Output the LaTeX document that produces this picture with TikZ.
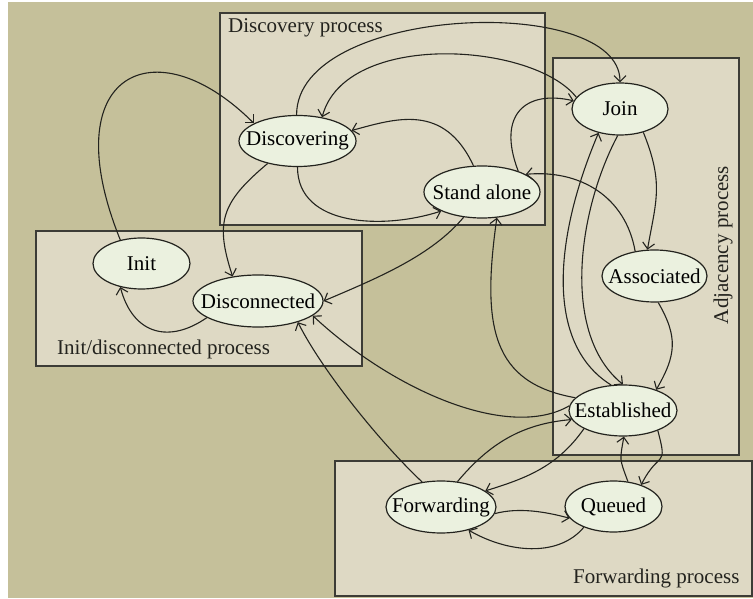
\documentclass[tikz,border=0pt]{standalone}
\usepackage{fontspec}
\setmainfont{Liberation Serif}
\usepackage{xcolor}
\usepackage{tikz}
\usetikzlibrary{shapes.geometric,arrows.meta}
\definecolor{bgolive}{RGB}{197,192,154}
\definecolor{boxfill}{RGB}{222,217,196}
\definecolor{statefill}{RGB}{235,241,223}
\definecolor{ink}{RGB}{35,35,30}
\definecolor{boxline}{RGB}{60,60,54}
\newcommand{\lbl}[1]{\makebox[0pt]{#1}}

\begin{document}
\begin{tikzpicture}[x=1pt,y=1pt,font=\fontsize{21}{24}\selectfont,
	statenode/.style={ellipse,draw=ink,fill=statefill,line width=1.2pt,inner sep=0pt},
	trans/.style={draw=ink,line width=1.1pt,-{Straight Barb[length=6pt,width=12pt]}},
	proc/.style={draw=boxline,fill=boxfill,line width=1.5pt},
	proclabel/.style={inner sep=0pt,text=ink}]
		\useasboundingbox (0,0) rectangle (753,598);
		\fill[bgolive] (8,0) rectangle (753,596);
		% process boxes
		\draw[proc] (220,585) rectangle (545,373);
		\draw[proc] (553,540) rectangle (739,143);
		\draw[proc] (36,367) rectangle (362,232);
		\draw[proc] (335,137) rectangle (752,2);
		\node[proclabel,anchor=base west] (discoverylbl) at (228,565) {Discovery process};
		\node[proclabel,rotate=90] (adjacencylbl) at (723,353) {Adjacency process};
		\node[proclabel,anchor=base west] (initlbl) at (57,243) {Init/disconnected process};
		\node[proclabel,anchor=base west] (forwardinglbl) at (573,15) {Forwarding process};
		% states
		\node[statenode,minimum width=117pt,minimum height=51pt] (discovering) at (297.5,457) {\lbl{Discovering}};
		\node[statenode,minimum width=116pt,minimum height=52pt] (standalone) at (482,406) {\lbl{Stand alone}};
		\node[statenode,minimum width=96pt,minimum height=52pt] (join) at (620,489) {\lbl{Join}};
		\node[statenode,minimum width=105pt,minimum height=52pt] (associated) at (654.5,322) {\lbl{Associated}};
		\node[statenode,minimum width=108pt,minimum height=51pt] (established) at (623,187.5) {\lbl{Established}};
		\node[statenode,minimum width=97pt,minimum height=51pt] (init) at (141.5,334.5) {\lbl{Init}};
		\node[statenode,minimum width=130pt,minimum height=52pt] (disconnected) at (258,297) {\lbl{Disconnected}};
		\node[statenode,minimum width=110pt,minimum height=52pt] (forwarding) at (441,91) {\lbl{Forwarding}};
		\node[statenode,minimum width=97pt,minimum height=51pt] (queued) at (613.5,91.5) {\lbl{Queued}};
		% transitions
		\draw[trans] (init.132) .. controls +(112:180) and +(135:140) .. (discovering.158);
		\draw[trans] (discovering.92) .. controls +(90:110) and +(90:90) .. (join.north);
		\draw[trans] (join.165) .. controls +(128:70) and +(75:90) .. (discovering.44);
		\draw[trans] (standalone.108) .. controls +(115:70) and +(15:45) .. (discovering.11);
		\draw[trans] (discovering.south) .. controls +(270:60) and +(198:60) .. (standalone.205);
		\draw[trans] (discovering.217) .. controls +(220:61) and +(108:57) .. (disconnected.136);
		\draw[trans] (standalone.234) .. controls +(230:50) and +(23:60) .. (disconnected.east);
		\draw[trans] (standalone.30) .. controls +(111:60) and +(167:50) .. (join.170);
		\draw[trans] (associated.128) .. controls +(100:55) and +(5:55) .. (standalone.22);
		\draw[trans] (join.315) .. controls +(292:55) and +(80:50) .. (associated.105);
		\draw[trans] (associated.278) .. controls +(300:40) and +(60:40) .. (established.32);
		\draw[trans] (join.265) .. controls +(242:85) and +(141:80) .. (established.north);
		\draw[trans] (established.115) .. controls +(148:80) and +(247:110) .. (join.228);
		\draw[trans] (established.165) .. controls +(170:85) and +(262:110) .. (standalone.300);
		\draw[trans] (established.175) .. controls +(210:70) and +(317:110) .. (disconnected.345);
		\draw[trans] (forwarding.127) .. controls +(137:50) and +(297:60) .. (disconnected.332);
		\draw[trans] (forwarding.57) .. controls +(50:50) and +(185:50) .. (established.190);
		\draw[trans] (established.205) .. controls +(235:45) and +(17:45) .. (forwarding.20);
		\draw[trans] (established.330) .. controls +(285:40) and +(63:40) .. (queued.38);
		\draw[trans] (queued.60) .. controls +(110:25) and +(260:25) .. (established.272);
		\draw[trans] (forwarding.353) .. controls +(15:25) and +(165:25) .. (queued.195);
		\draw[trans] (queued.215) .. controls +(230:40) and +(330:45) .. (forwarding.320);
		\draw[trans] (disconnected.198) .. controls +(215:45) and +(285:50) .. (init.228);
	\end{tikzpicture}
\end{document}
